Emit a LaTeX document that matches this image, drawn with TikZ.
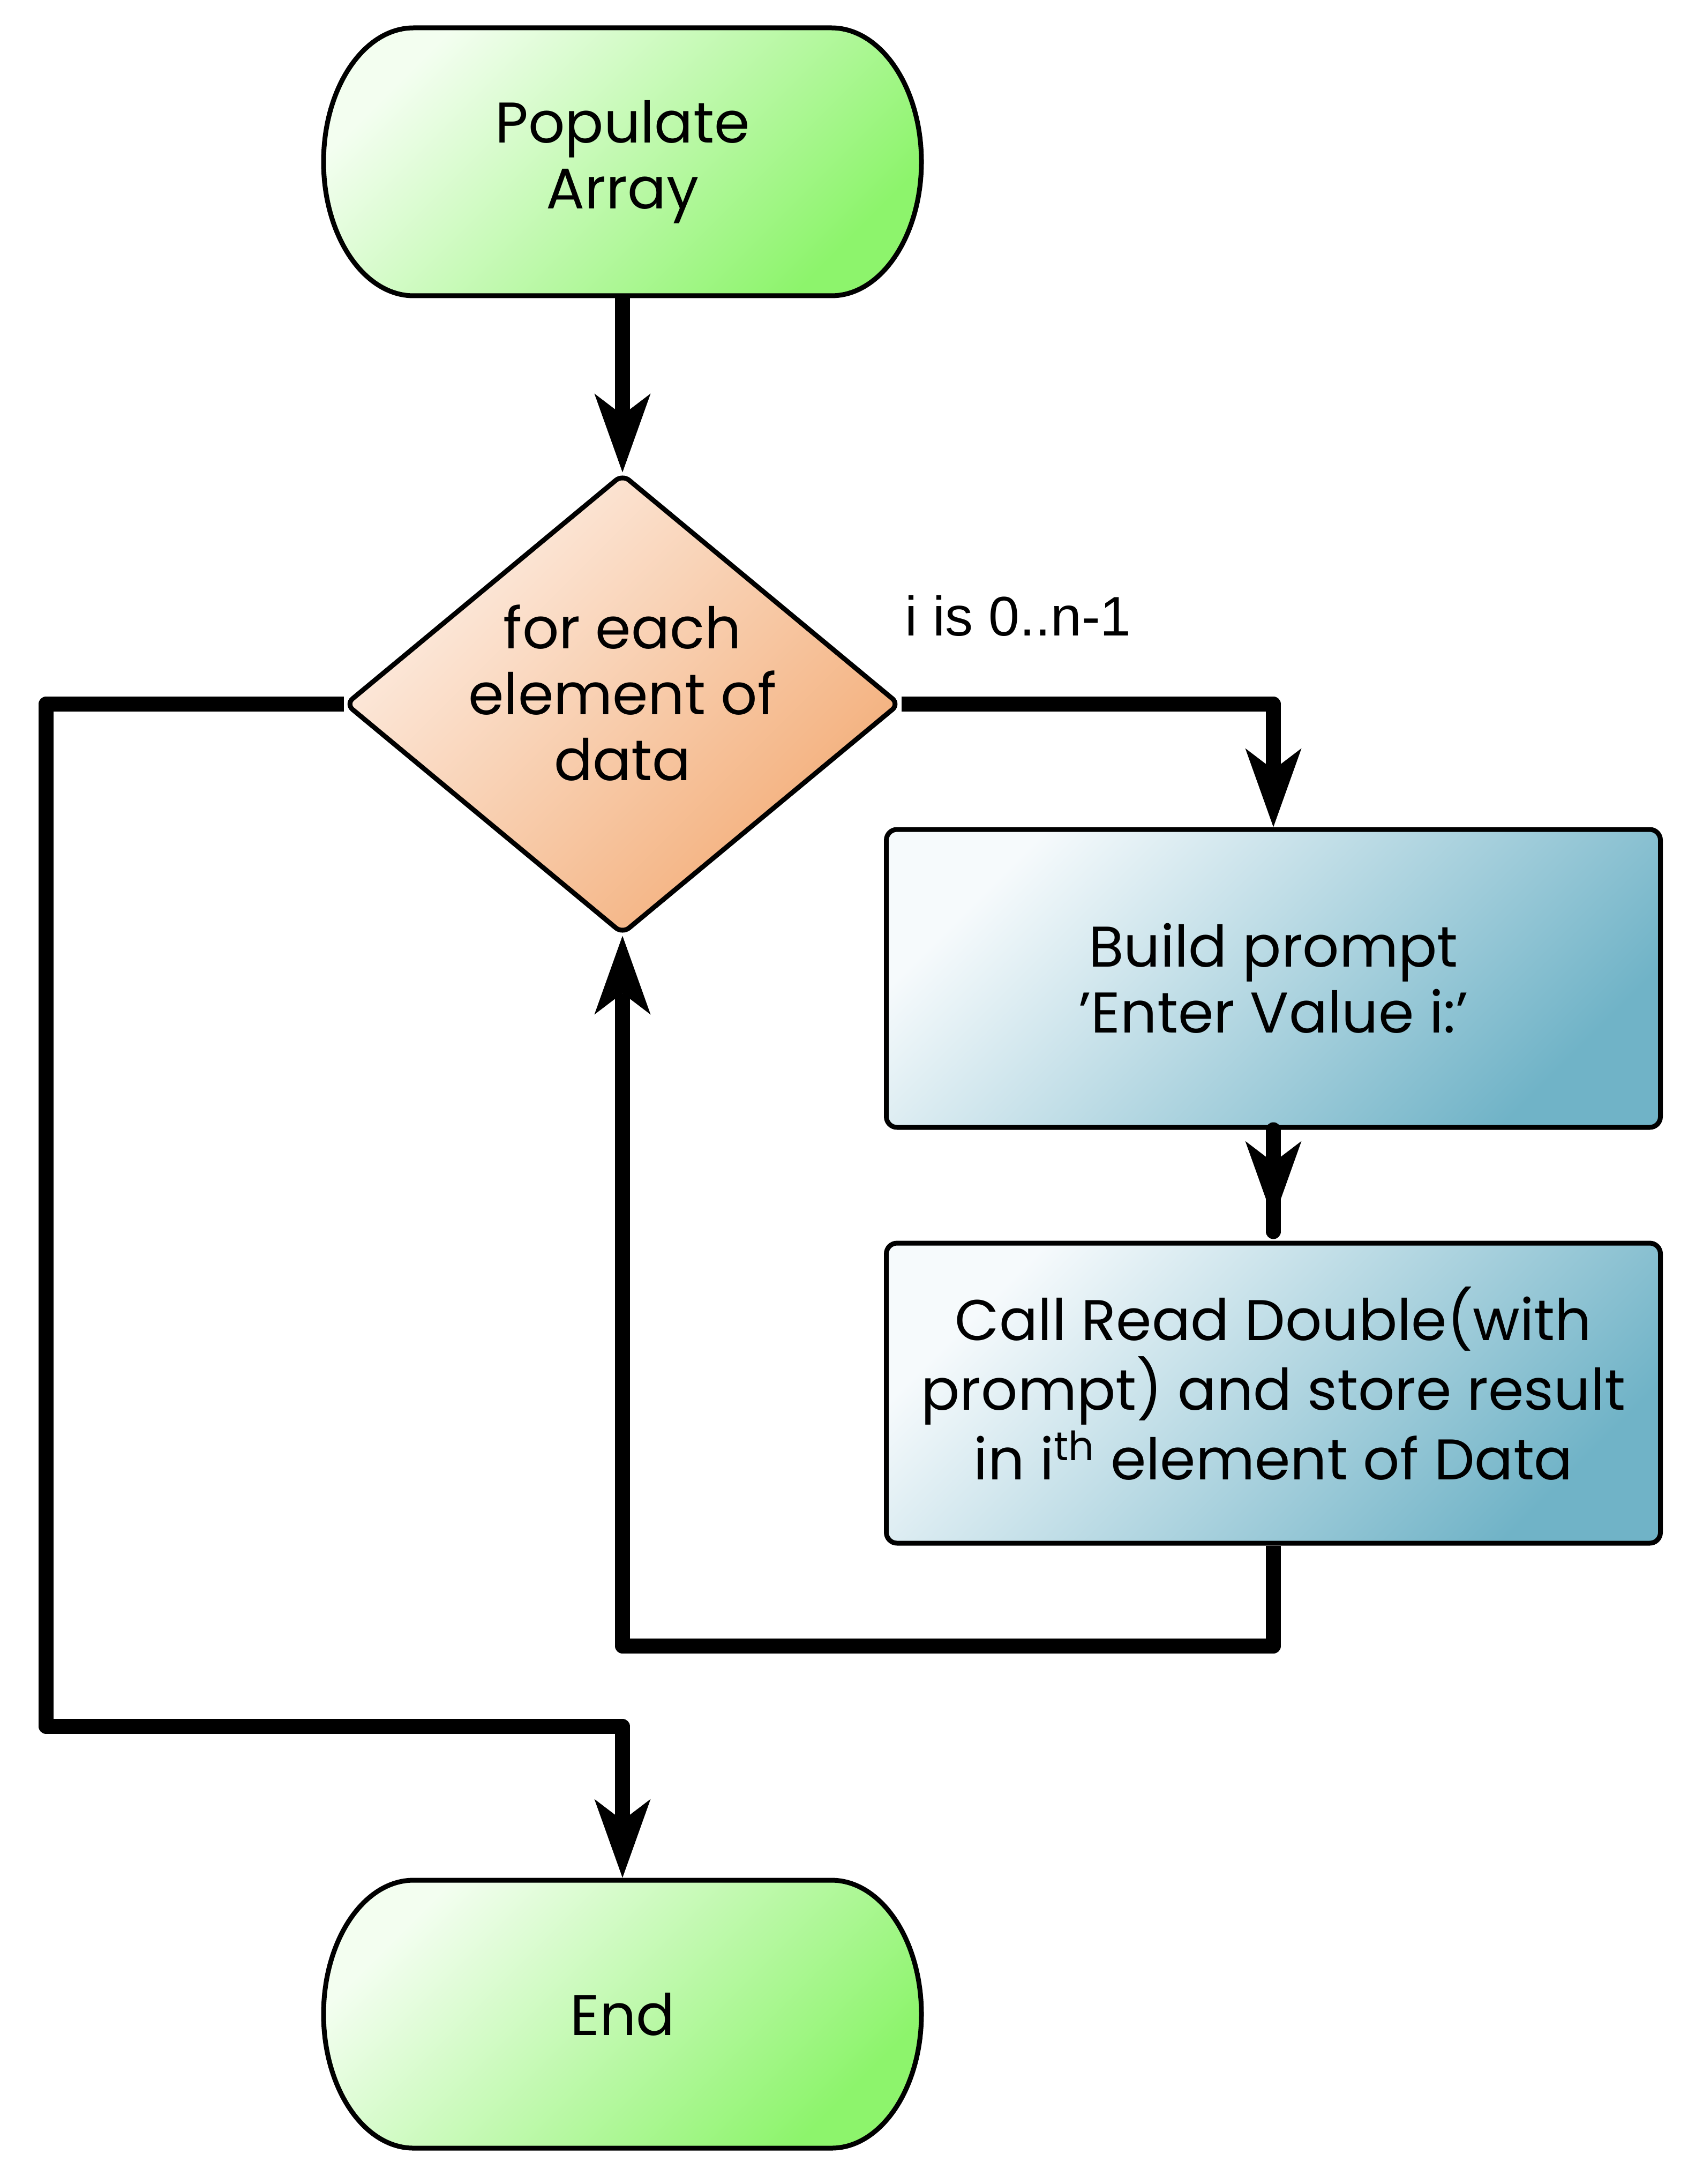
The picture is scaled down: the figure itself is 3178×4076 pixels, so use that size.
\documentclass[tikz,border=0pt]{standalone}
\usepackage{fontspec}
\setmainfont{Poppins}
\newfontfamily\labelfont{Liberation Sans}
\usetikzlibrary{arrows.meta,backgrounds,calc}

\definecolor{termA}{HTML}{F3FEF0}
\definecolor{termB}{HTML}{8DF46C}
\definecolor{diaA}{HTML}{FDEEE4}
\definecolor{diaB}{HTML}{F3AC76}
\definecolor{boxA}{HTML}{F6FAFC}
\definecolor{boxB}{HTML}{70B3C7}

\tikzset{
  shapetext/.style={font=\fontsize{26.75}{30.75}\selectfont, align=center, inner sep=0pt, outer sep=1.125pt},
  holder/.style={shapetext, rectangle, draw=none},
  outline/.style={draw=black, line width=2.25pt},
  termstyle/.style={outline, top color=termA, bottom color=termB, shading angle=45},
  diastyle/.style={outline, top color=diaA, bottom color=diaB, shading angle=45, rounded corners=4pt},
  procbox/.style={shapetext, rectangle, outline, rounded corners=5pt, top color=boxA, bottom color=boxB, shading angle=45, minimum width=361.25pt, minimum height=139pt},
  lbl/.style={font=\labelfont\fontsize{26}{30}\selectfont, inner sep=0pt},
  connline/.style={draw=black, line width=7pt, line join=round},
  conn/.style={connline, -{Stealth[length=36.75pt,width=26.25pt,inset=10pt,line width=0pt]}},
}

\newcommand\drawterm[1]{%
  \draw[termstyle] ($(#1.center)+(-390,-250)$) -- ($(#1.center)+(390,-250)$)
    arc[start angle=90,end angle=-90,x radius=42pt,y radius=62.5pt]
    -- ($(#1.center)+(-390,250)$)
    arc[start angle=270,end angle=90,x radius=42pt,y radius=62.5pt] -- cycle;}

\begin{document}
\begin{tikzpicture}[x=0.25pt,y=-0.25pt]
\useasboundingbox (0,0) rectangle (3178,4076);

\node[holder, minimum width=279pt, minimum height=125pt] (start) at (1162,302) {Populate\\Array};
\node[holder, minimum width=258pt, minimum height=214pt] (dia) at (1162,1314) {};
\node[shapetext] (diat) at (1162,1293) {for each\\element of\\data};
\node[procbox] (b1) at (2377,1826) {Build prompt\\'Enter Value i:'};
\node[procbox, minimum height=140pt] (b2) at (2377,2600) {};
\node[shapetext, font=\fontsize{26.75}{32.5}\selectfont] (b2t) at (2377,2582) {Call Read Double(with\\prompt) and store result\\in i\textsuperscript{th} element of Data};
\node[holder, minimum width=279pt, minimum height=125pt] (end) at (1162,3759) {End};
\node[lbl, anchor=base west] (lab) at (1689,1186) {i is 0..n-1};

\begin{scope}[on background layer]
  \drawterm{start}
  \drawterm{end}
  \draw[diastyle] ($(dia.center)+(258,-214)$) -- ($(dia.center)+(516,0)$) -- ($(dia.center)+(0,428)$)
     -- ($(dia.center)+(-516,0)$) -- ($(dia.center)+(0,-428)$) -- cycle;
\end{scope}

\draw[conn] (start.south) -- (dia.north);
\draw[conn] (dia.east) -| (b1.north);
\draw[connline, line cap=round, shorten >=4.25pt] (b1.south) -- (b2.north);
\draw[conn, shorten >=9.75pt] (b1.south) -- (b2.north);
\coordinate (lpR) at (1162,3072);
\draw[conn] (b2.south) |- (lpR) -- (dia.south);
\coordinate (lpL) at (86,3222);
\draw[conn] (dia.west) -| (lpL) -| (end.north);
\end{tikzpicture}
\end{document}
